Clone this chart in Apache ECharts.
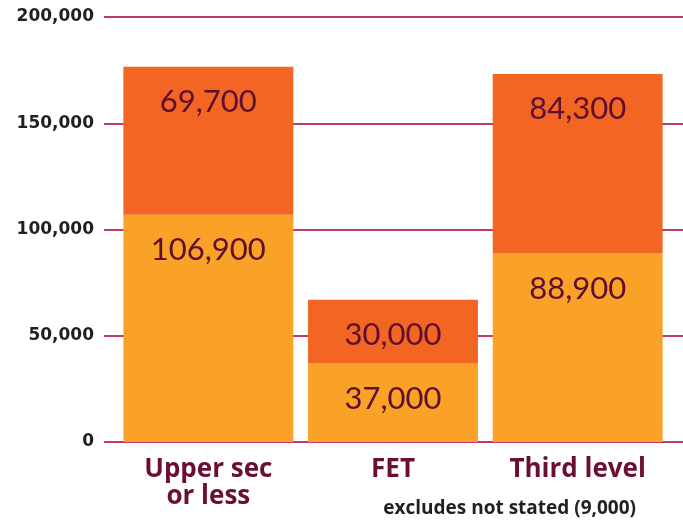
<!DOCTYPE html>
<html><head><meta charset="utf-8">
<script src="https://cdn.jsdelivr.net/npm/echarts@6/dist/echarts.min.js"></script>
<style>html,body{margin:0;padding:0;background:#fff}#c{width:683px;height:524px}</style>
</head><body><div id="c"></div>
<script>
var categories = ['Upper sec\nor less', 'FET', 'Third level'];
var lowerValues = [106900, 37000, 88900];
var upperValues = [69700, 30000, 84300];
var yMin = 0, yMax = 200000, yInterval = 50000;
var footnote = 'excludes not stated (9,000)';

var chart = echarts.init(document.getElementById('c'));
var labelColor = '#5e0f2f';
function fmt(v){ return v.toLocaleString('en-US'); }
chart.setOption({
  animation: false,
  grid: [
    {left: 104, right: 0, top: 17, bottom: 82},
    {left: 116, right: 13, top: 17, bottom: 82}
  ],
  xAxis: [
    {gridIndex: 0, type: 'value', show: false},
    {gridIndex: 1, type: 'category', data: categories,
     axisLine: {show: false}, axisTick: {show: false},
     axisLabel: {margin: 14, color: '#6a0f33', fontFamily: 'Open Sans', fontWeight: 'bold', fontSize: 26, lineHeight: 27}}
  ],
  yAxis: [
    {gridIndex: 0, type: 'value', min: yMin, max: yMax, interval: yInterval,
     axisLine: {show: false}, axisTick: {show: false},
     axisLabel: {margin: 10, color: '#231f20', fontFamily: 'DejaVu Sans', fontWeight: 'bold', fontSize: 17,
       formatter: function(v){ return fmt(v); }},
     splitLine: {lineStyle: {color: '#c0396b', width: 2}}},
    {gridIndex: 1, type: 'value', min: yMin, max: yMax, interval: yInterval, show: false, splitLine: {show: false}}
  ],
  series: [
    {type: 'bar', xAxisIndex: 1, yAxisIndex: 1, stack: 'a', data: lowerValues, barCategoryGap: '8%',
     itemStyle: {color: '#f9a227'},
     label: {show: true, position: 'insideTop', distance: 20, color: labelColor, fontFamily: 'Lato', fontSize: 31,
       formatter: function(p){ return fmt(p.value); }}},
    {type: 'bar', xAxisIndex: 1, yAxisIndex: 1, stack: 'a', data: upperValues, barCategoryGap: '8%',
     itemStyle: {color: '#f26522'},
     label: {show: true, position: 'insideTop', distance: 20, color: labelColor, fontFamily: 'Lato', fontSize: 31,
       formatter: function(p){ return fmt(p.value); }}}
  ],
  graphic: [
    {type: 'text', right: 47, top: 499, style: {text: footnote, fill: '#231f20', font: 'bold 19px "Open Sans"'}}
  ]
});
</script></body></html>
